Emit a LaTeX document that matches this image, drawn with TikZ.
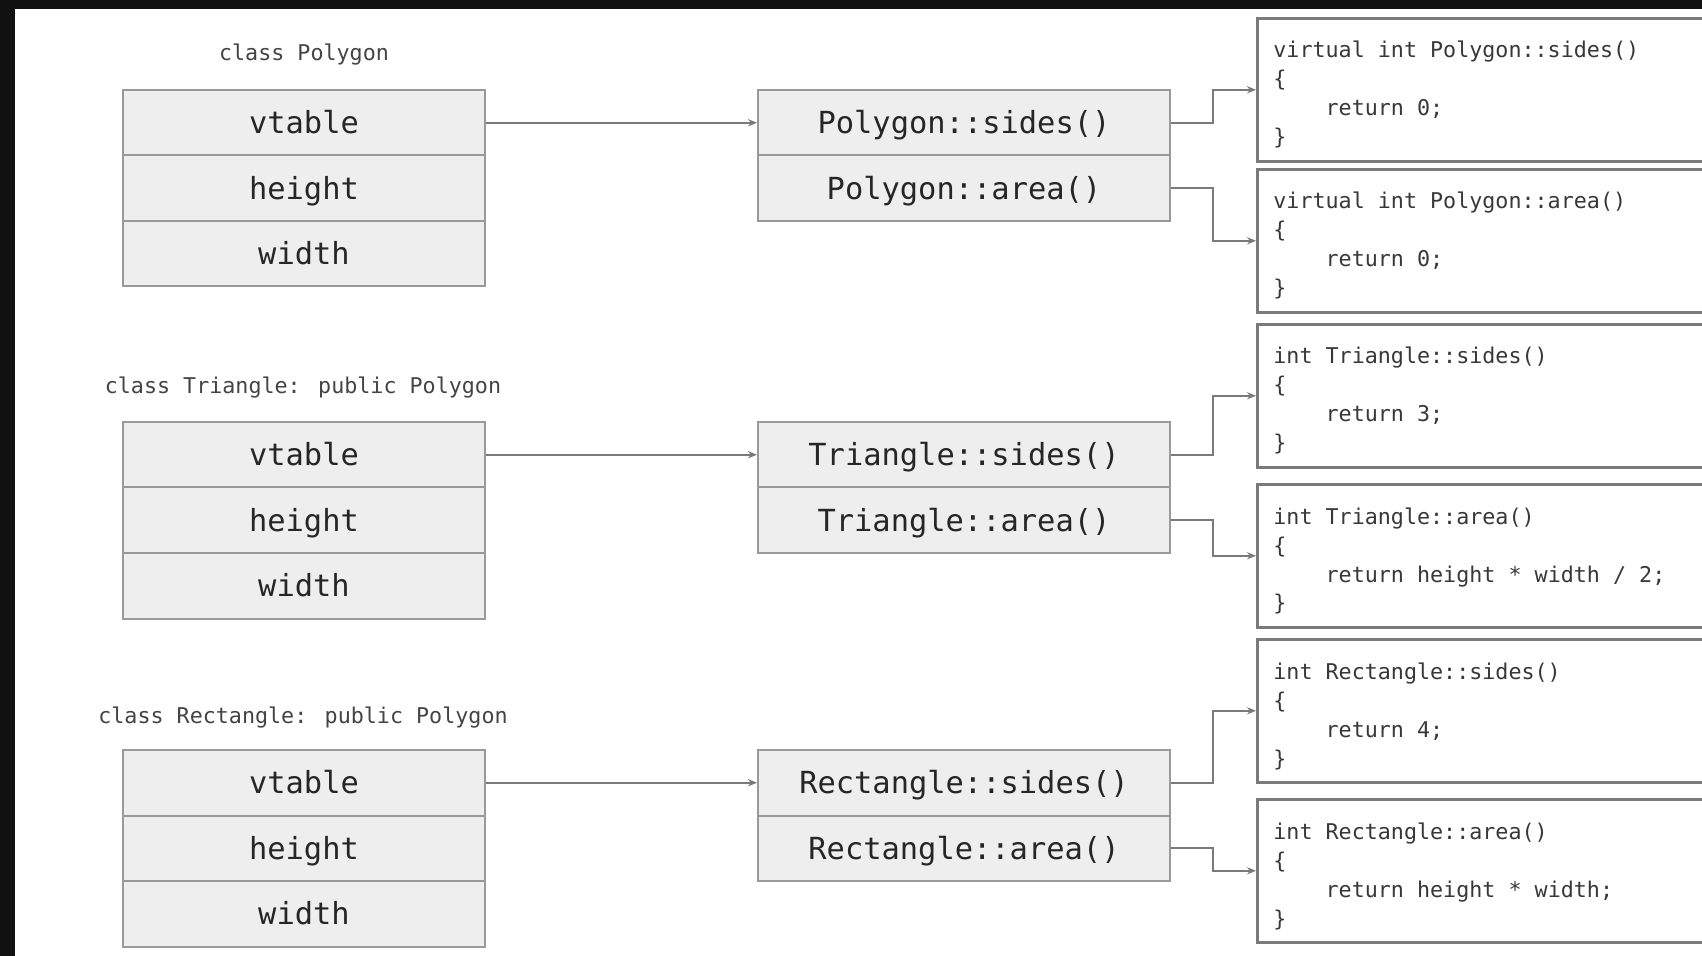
\documentclass[tikz,border=0pt]{standalone}
\usepackage{fontspec}
\newfontfamily\monofont{DejaVu Sans Mono}
\usetikzlibrary{arrows.meta}
\definecolor{frameDark}{HTML}{111111}
\definecolor{boxFill}{HTML}{EEEEEE}
\definecolor{boxLine}{HTML}{999999}
\definecolor{codeLine}{HTML}{7A7A7A}
\definecolor{connLine}{HTML}{7A7A7A}
\definecolor{mainText}{HTML}{262626}
\definecolor{cText}{HTML}{383838}
\definecolor{labelText}{HTML}{444444}
% four lines of code; the first baseline is the box baseline
\newcommand\codelines[4]{\vtop{\baselineskip=14.5pt\hbox{#1}\hbox{#2}\hbox{#3}\hbox{#4}}}
\newcommand\ind{\hphantom{xxxx}}
\begin{document}
\begin{tikzpicture}[x=0.5pt,y=-0.5pt,
  field/.style={draw=boxLine, line width=1pt, fill=boxFill, minimum width=181pt,
    minimum height=32.75pt, inner sep=0pt, text=mainText,
    text height=13pt, text depth=2.1pt,
    font=\monofont\fontsize{15.2}{18}\selectfont},
  method/.style={field, minimum width=206pt},
  codebox/.style={draw=codeLine, line width=1.3pt, fill=white, minimum width=270pt,
    minimum height=71.5pt, anchor=north west, inner sep=0pt},
  codetext/.style={anchor=base west, inner sep=0pt, text=cText,
    font=\monofont\fontsize{10.85}{14.5}\selectfont},
  classlabel/.style={inner sep=0pt, text=labelText,
    font=\monofont\fontsize{10.85}{13}\selectfont},
  conn/.style={draw=connLine, line width=0.9pt, -{Stealth[length=4.5pt,width=3.6pt]}},
]
% page and dark frame
\path[use as bounding box, fill=white] (0,0) rectangle (1702,956);
\fill[frameDark] (0,0) rectangle (1702,9);
\fill[frameDark] (0,0) rectangle (15,956);

% x position of the vertical runs of the elbow connectors
\coordinate (elbow) at (1213,0);

% ---------- class Polygon ----------
\node[classlabel] (lpoly) at (304,55) {class Polygon};
\node[field] (pv) at (304,122.75) {vtable};
\node[field] (ph) at (304,188.25) {height};
\node[field] (pw) at (304,253.75) {width};
\node[method] (ps) at (964,122.75) {Polygon::sides()};
\node[method] (pa) at (964,188.25) {Polygon::area()};
\node[codebox] (cps) at (1256,17) {};
\node[codetext] (tps) at ([shift={(17,41)}]cps.north west)
  {\codelines{virtual int Polygon::sides()}{\{}{\ind return 0;}{\}}};
\node[codebox] (cpa) at (1256,168) {};
\node[codetext] (tpa) at ([shift={(17,41)}]cpa.north west)
  {\codelines{virtual int Polygon::area()}{\{}{\ind return 0;}{\}}};

% ---------- class Triangle ----------
\node[classlabel] (ltri) at (303,388) {class Triangle: public Polygon};
\node[field] (tv) at (304,454.75) {vtable};
\node[field] (th) at (304,520.25) {height};
\node[field] (tw) at (304,585.75) {width};
\node[method] (ts) at (964,454.75) {Triangle::sides()};
\node[method] (ta) at (964,520.25) {Triangle::area()};
\node[codebox] (cts) at (1256,323) {};
\node[codetext] (tts) at ([shift={(17,41)}]cts.north west)
  {\codelines{int Triangle::sides()}{\{}{\ind return 3;}{\}}};
\node[codebox] (cta) at (1256,483) {};
\node[codetext] (tta) at ([shift={(17,41)}]cta.north west)
  {\codelines{int Triangle::area()}{\{}{\ind return height * width / 2;}{\}}};

% ---------- class Rectangle ----------
\node[classlabel] (lrect) at (303,718) {class Rectangle: public Polygon};
\node[field] (rv) at (304,782.75) {vtable};
\node[field] (rh) at (304,848.25) {height};
\node[field] (rw) at (304,913.75) {width};
\node[method] (rs) at (964,782.75) {Rectangle::sides()};
\node[method] (ra) at (964,848.25) {Rectangle::area()};
\node[codebox] (crs) at (1256,638) {};
\node[codetext] (trs) at ([shift={(17,41)}]crs.north west)
  {\codelines{int Rectangle::sides()}{\{}{\ind return 4;}{\}}};
\node[codebox] (cra) at (1256,798) {};
\node[codetext] (tra) at ([shift={(17,41)}]cra.north west)
  {\codelines{int Rectangle::area()}{\{}{\ind return height * width;}{\}}};

% ---------- vtable pointers ----------
\draw[conn] (pv.east) -- (ps.west);
\draw[conn] (tv.east) -- (ts.west);
\draw[conn] (rv.east) -- (rs.west);

% ---------- method entries to their bodies ----------
\foreach \m/\c in {ps/cps, pa/cpa, ts/cts, ta/cta, rs/crs, ra/cra}
  \draw[conn] (\m.east) -- (\m.east -| elbow) |- (\c.west);
\end{tikzpicture}
\end{document}
